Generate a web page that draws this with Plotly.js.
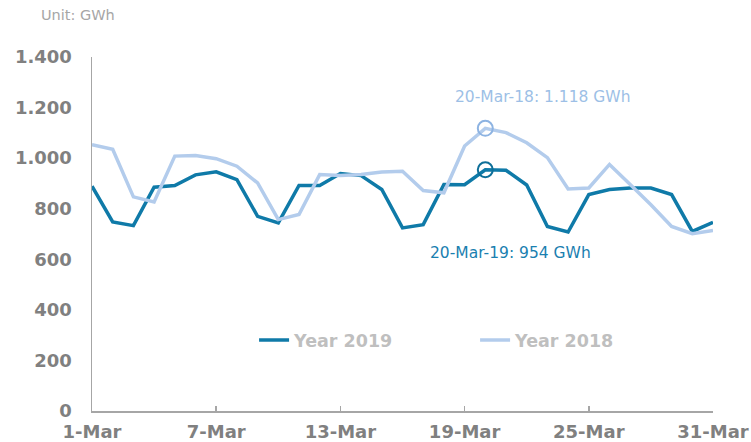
<!DOCTYPE html>
<html>
<head>
<meta charset="utf-8">
<script src="https://cdn.plot.ly/plotly-3.0.1.min.js"></script>
<style>html,body{margin:0;padding:0;background:#fff;}#chart{width:751px;height:442px;}</style>
</head>
<body>
<div id="chart"></div>
<script>
const days = Array.from({length: 31}, (_, i) => i + 1);
const year2019 = [889, 748, 733, 885, 892, 934, 946, 915, 770, 744, 892, 892, 939, 931, 876, 724, 737, 896, 895, 954, 952, 894, 730, 708, 856, 876, 882, 882, 856, 710, 746];
const year2018 = [1053, 1035, 847, 827, 1008, 1010, 998, 968, 902, 757, 777, 935, 931, 935, 945, 948, 872, 863, 1048, 1118, 1101, 1061, 1002, 878, 882, 975, 896, 816, 730, 701, 714];
const tickDays = [1, 7, 13, 19, 25, 31];
const tickLabels = ['1-Mar', '7-Mar', '13-Mar', '19-Mar', '25-Mar', '31-Mar'];
const highlightIndex = 19;

const c2019 = '#0F7AA8';
const c2018 = '#B3CCEC';
const font = 'DejaVu Sans, Verdana, sans-serif';

const traces = [
  {x: days, y: year2019, name: 'Year 2019', mode: 'lines', line: {color: c2019, width: 3.5}},
  {x: days, y: year2018, name: 'Year 2018', mode: 'lines', line: {color: c2018, width: 3.5}},
  {x: [days[highlightIndex]], y: [year2019[highlightIndex]], mode: 'markers', showlegend: false, hoverinfo: 'skip',
   marker: {symbol: 'circle-open', size: 15, color: '#0E6F99', line: {width: 2}}},
  {x: [days[highlightIndex]], y: [year2018[highlightIndex]], mode: 'markers', showlegend: false, hoverinfo: 'skip',
   marker: {symbol: 'circle-open', size: 15, color: '#8DB3E2', line: {width: 2}}}
];

const fmt = v => v.toString().replace(/\B(?=(\d{3})+(?!\d))/g, '.');

const layout = {
  width: 751, height: 442,
  margin: {l: 92, r: 38, t: 57, b: 31},
  paper_bgcolor: '#fff', plot_bgcolor: '#fff',
  separators: ',.',
  showlegend: true,
  font: {family: font},
  xaxis: {
    range: [1, 31], tickvals: tickDays, ticktext: tickLabels,
    showgrid: false, zeroline: false, showline: true, linecolor: '#A6A6A6', linewidth: 1.5,
    ticks: 'inside', ticklen: 5, tickcolor: '#A6A6A6', tickwidth: 1.5, ticklabelstandoff: 4,
    tickfont: {family: font, size: 18, color: '#808080', weight: 'bold'}
  },
  yaxis: {
    range: [0, 1400], dtick: 200, tickformat: ',d',
    showgrid: false, zeroline: false, showline: true, linecolor: '#A6A6A6', linewidth: 1.5,
    ticks: '', ticklabelstandoff: 15,
    tickfont: {family: font, size: 18, color: '#808080', weight: 'bold'}
  },
  legend: {
    orientation: 'h', x: 0.261, xanchor: 'left', y: 0.2, yanchor: 'middle',
    font: {family: font, size: 17.5, color: '#BFBFBF', weight: 'bold'},
    entrywidth: 176, itemwidth: 30, bgcolor: 'rgba(0,0,0,0)'
  },
  annotations: [
    {xref: 'paper', yref: 'paper', x: -0.085, y: 1.12, xanchor: 'left', yanchor: 'middle', showarrow: false,
     text: 'Unit: GWh', font: {family: font, size: 14.5, color: '#A6A6A6'}},
    {xref: 'x', yref: 'y', x: 22.8, y: 1241, showarrow: false,
     text: days[highlightIndex] + '-Mar-18: ' + fmt(year2018[highlightIndex]) + ' GWh',
     font: {family: font, size: 15.5, color: '#9DBFE6'}},
    {xref: 'x', yref: 'y', x: 21.2, y: 626, showarrow: false,
     text: days[highlightIndex] + '-Mar-19: ' + fmt(year2019[highlightIndex]) + ' GWh',
     font: {family: font, size: 15.5, color: '#1A80B0'}}
  ]
};

Plotly.newPlot('chart', traces, layout, {displayModeBar: false, staticPlot: true});
</script>
</body>
</html>
